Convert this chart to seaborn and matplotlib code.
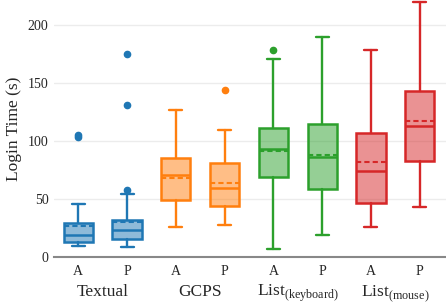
import matplotlib
matplotlib.use("Agg")
import matplotlib.pyplot as plt
import seaborn as sns

# summary statistics (seconds)
groups = ["Textual", "GCPS", "List$_{\\mathrm{(keyboard)}}$", "List$_{\\mathrm{(mouse)}}$"]
conditions = ["A", "P"]
colors = ["#1f77b4", "#1f77b4", "#ff7f0e", "#ff7f0e",
          "#2ca02c", "#2ca02c", "#d62728", "#d62728"]

whislo = [9.5, 8.1, 25.9, 27.6, 6.9, 18.7, 25.6, 42.6]
q1 = [13.0, 15.3, 49.0, 44.0, 69.0, 58.7, 46.0, 82.4]
med = [18.5, 22.8, 70.8, 59.0, 93.3, 85.8, 74.3, 112.6]
q3 = [29.4, 32.0, 85.5, 81.2, 111.4, 114.6, 107.0, 143.0]
whishi = [45.7, 54.4, 126.7, 109.7, 170.5, 189.5, 178.5, 220.0]
means = [26.5, 30.2, 68.0, 63.6, 91.3, 87.8, 81.8, 117.4]
fliers = [[103.5, 105.0], [57.3, 131.3, 175.0], [], [144.0],
          [178.5], [], [], []]

sns.set_style("whitegrid")
plt.rcParams["font.family"] = ["Liberation Serif", "DejaVu Serif"]
plt.rcParams["mathtext.fontset"] = "custom"
plt.rcParams["mathtext.rm"] = "Liberation Serif"

fig = plt.figure(figsize=(4.46, 3.05), dpi=100)
ax = fig.add_axes([0.121, 0.1584, 0.879, 0.8416])

for i in range(len(med)):
    stats = [{
        "whislo": whislo[i], "q1": q1[i], "med": med[i], "q3": q3[i],
        "whishi": whishi[i], "mean": means[i], "fliers": fliers[i],
    }]
    c = colors[i]
    ax.bxp(
        stats, positions=[i], widths=0.6, capwidths=0.27,
        patch_artist=True, showmeans=True, meanline=True,
        boxprops=dict(facecolor=matplotlib.colors.to_rgba(c, 0.5), edgecolor=c, linewidth=1.8),
        medianprops=dict(color=c, linewidth=1.8),
        meanprops=dict(color=c, linewidth=1.5, linestyle=(0, (2.5, 1.5))),
        whiskerprops=dict(color=c, linewidth=1.7),
        capprops=dict(color=c, linewidth=1.7),
        flierprops=dict(marker="o", markerfacecolor=c, markeredgecolor=c, markersize=4.5),
    )

ax.set_xlim(-0.5, 7.54)
ax.set_ylim(0, 221.6)
ax.set_yticks([0, 50, 100, 150, 200])
ax.set_xticks(range(8))
ax.set_xticklabels(conditions * 4, fontsize=10)
ax.tick_params(axis="y", labelsize=10, length=0, pad=4)
ax.tick_params(axis="x", length=0, pad=6)
ax.grid(axis="x", visible=False)
ax.grid(axis="y", color="#ececec", linewidth=1)
ax.set_ylabel("Login Time (s)", fontsize=12.5, labelpad=4)

sns.despine(ax=ax, left=True)
ax.spines["bottom"].set_color("#888888")
ax.spines["bottom"].set_linewidth(1.5)

for g, name in enumerate(groups):
    ax.text(2 * g + 0.5, -0.153, name, transform=ax.get_xaxis_transform(),
            ha="center", va="baseline", fontsize=12.5)

fig.savefig("out.png", dpi=100)
